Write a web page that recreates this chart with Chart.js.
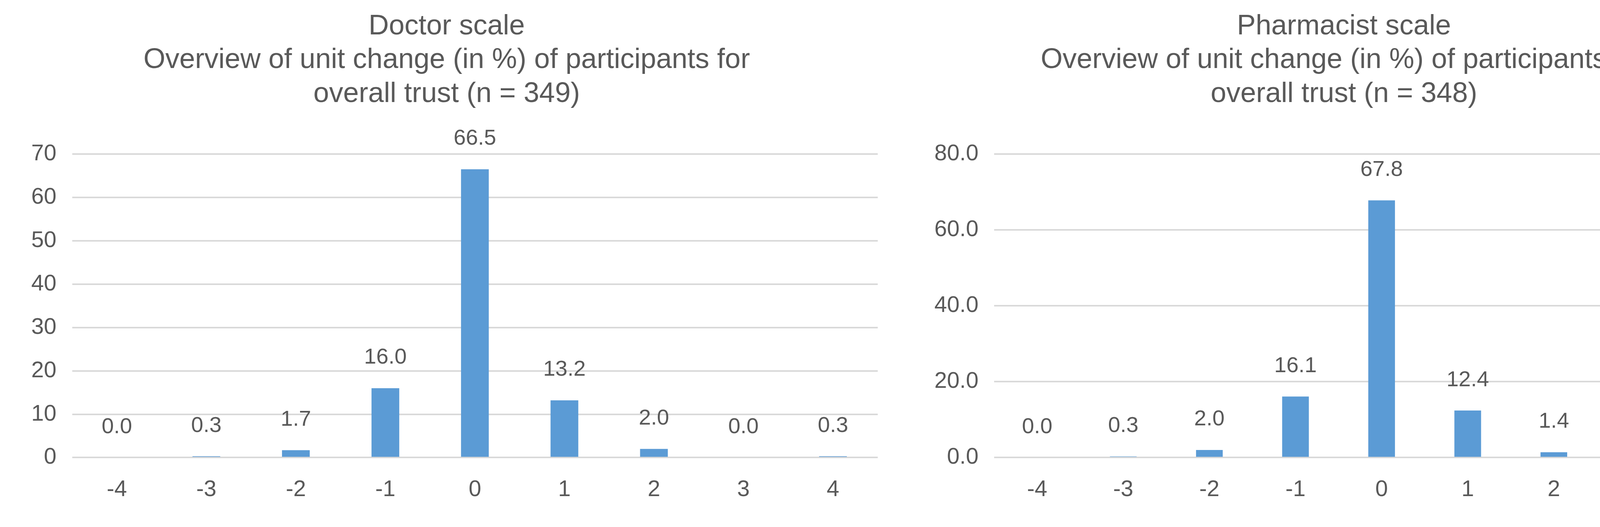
<!DOCTYPE html>
<html>
<head>
<meta charset="utf-8">
<script src="https://cdn.jsdelivr.net/npm/chart.js@4/dist/chart.umd.min.js"></script>
<style>
  html, body { margin: 0; padding: 0; background: #fff; overflow: hidden; }
  canvas { position: absolute; top: 0; }
</style>
</head>
<body>
<canvas id="doctorChart" width="2292" height="1348" style="left:0;width:2292px;height:1348px"></canvas>
<canvas id="pharmChart" width="2292" height="1348" style="left:2292px;width:2292px;height:1348px"></canvas>
<script>
// Categories (unit change) and percentages
var unitChanges = ['-4', '-3', '-2', '-1', '0', '1', '2', '3', '4'];
var doctorValues = [0.0, 0.3, 1.7, 16.0, 66.5, 13.2, 2.0, 0.0, 0.3];
var pharmacistValues = [0.0, 0.3, 2.0, 16.1, 67.8, 12.4, 1.4, 0.0, 0.0];

var doctorTitle = ['Doctor scale', 'Overview of unit change (in %) of participants for', 'overall trust (n = 349)'];
var pharmacistTitle = ['Pharmacist scale', 'Overview of unit change (in %) of participants for', 'overall trust (n = 348)'];

var textColour = '#595959';
var fontFamily = '"Liberation Sans", Arial, sans-serif';

// Simple plugin to write the value above each bar
var valueLabels = {
    id: 'valueLabels',
    afterDatasetsDraw: function (chart) {
        var ctx = chart.ctx;
        var meta = chart.getDatasetMeta(0);
        ctx.save();
        ctx.fillStyle = textColour;
        ctx.font = '56px ' + fontFamily;
        ctx.textAlign = 'center';
        ctx.textBaseline = 'bottom';
        meta.data.forEach(function (bar, i) {
            var v = chart.data.datasets[0].data[i];
            ctx.fillText(v.toFixed(1), bar.x, bar.y - 50);
        });
        ctx.restore();
    }
};

function generateGraph(canvasId, title, values, maxY, stepY, decimals, leftPad, rightPad) {
    var ctx = document.getElementById(canvasId);
    return new Chart(ctx, {
        type: 'bar',
        data: {
            labels: unitChanges,
            datasets: [{
                data: values,
                backgroundColor: '#5b9bd5',
                barPercentage: 0.31,
                categoryPercentage: 1.0
            }]
        },
        options: {
            responsive: false,
            devicePixelRatio: 1,
            animation: false,
            layout: { padding: { left: leftPad, right: rightPad, top: 25, bottom: 20 } },
            plugins: {
                legend: { display: false },
                tooltip: { enabled: false },
                title: {
                    display: true,
                    text: title,
                    color: textColour,
                    font: { family: fontFamily, size: 72, weight: 'normal' },
                    lineHeight: 1.35,
                    padding: { top: 0, bottom: 110 }
                }
            },
            scales: {
                x: {
                    grid: { display: false },
                    border: { display: false },
                    ticks: {
                        color: textColour,
                        font: { family: fontFamily, size: 58 },
                        padding: 40
                    }
                },
                y: {
                    min: 0,
                    max: maxY,
                    border: { display: false },
                    grid: { color: '#d9d9d9', lineWidth: 4, drawTicks: false },
                    ticks: {
                        stepSize: stepY,
                        color: textColour,
                        font: { family: fontFamily, size: 58 },
                        padding: 40,
                        callback: function (v) { return v.toFixed(decimals); }
                    }
                }
            }
        },
        plugins: [valueLabels]
    });
}

generateGraph('doctorChart', doctorTitle, doctorValues, 70, 10, 0, 40, 45);
generateGraph('pharmChart', pharmacistTitle, pharmacistValues, 80, 20, 1, 60, 55);
</script>
</body>
</html>
